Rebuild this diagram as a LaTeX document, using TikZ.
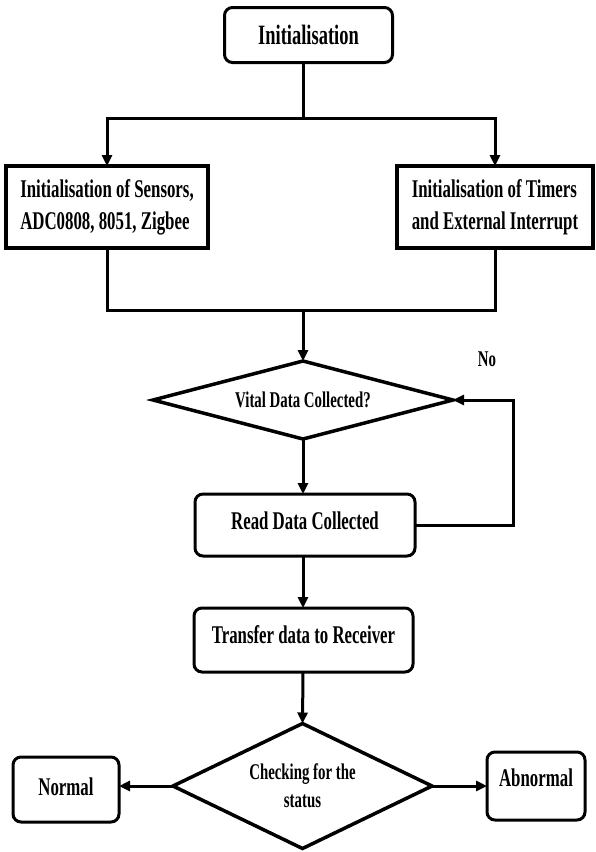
\documentclass[tikz,border=0pt]{standalone}
\usepackage{fontspec}
\setmainfont{Liberation Serif}
\newfontfamily\condfont[FakeStretch=0.66]{Liberation Serif}
\usetikzlibrary{shapes.geometric,arrows.meta}
\begin{document}
\begin{tikzpicture}[x=1pt,y=-1pt,
  rbox/.style={draw, line width=3pt, rounded corners=8pt, fill=white, inner sep=0pt, outer sep=0pt},
  sbox/.style={draw, line width=4pt, fill=white, inner sep=0pt, outer sep=0pt},
  dec/.style={draw, diamond, line width=3.5pt, fill=white, inner sep=0pt, outer sep=0pt},
  conn/.style={line width=3pt},
  arr/.style={conn, -{Triangle[length=11pt,width=10pt]}},
  fbig/.style={font=\condfont\bfseries\fontsize{28}{32}\selectfont},
  fmid/.style={font=\condfont\bfseries\fontsize{25.5}{32}\selectfont},
  fsmall/.style={font=\condfont\bfseries\fontsize{22.5}{28}\selectfont},
]
\fill[white] (0,0) rectangle (596,852);
\useasboundingbox (0,0) rectangle (596,852);

\coordinate (split) at (303,118);
\coordinate (join) at (303,310);
\coordinate (col) at (303,0);
\coordinate (loopx) at (513,0);

\node[rbox, fbig, minimum width=168pt, minimum height=55pt] (init) at (308.5,35) {Initialisation};
\node[sbox, fmid, minimum width=202pt, minimum height=82pt, align=left] (sens) at (107,207) {Initialisation of Sensors,\\ADC0808, 8051, Zigbee};
\node[sbox, fmid, minimum width=196pt, minimum height=82pt, align=left] (tim) at (495,207) {Initialisation of Timers\\and External Interrupt};

\node[dec, fsmall, minimum width=300pt, minimum height=78pt, aspect=3.85] (d1) at (303,400) {Vital Data Collected?};
\node[fsmall, inner sep=0pt] (no) at (487,359) {No};

\node[rbox, fmid, minimum width=220pt, minimum height=62pt, text height=17pt, text depth=8.5pt] (read) at (305,525) {Read Data Collected};
\node[rbox, fmid, minimum width=219pt, minimum height=64pt, text height=17pt, text depth=11pt] (xfer) at (303.5,640) {Transfer data to Receiver};

\node[dec, fsmall, align=center, minimum width=259pt, minimum height=125pt, aspect=2.07] (d2) at (302.5,786) {Checking for the\\status};
\node[rbox, fmid, minimum width=106pt, minimum height=65pt, text height=17pt, text depth=5pt] (normal) at (66,789.5) {Normal};
\node[rbox, fmid, minimum width=98pt, minimum height=68pt, text height=17pt, text depth=17pt] (abn) at (536,786) {Abnormal};

\draw[conn] (init.south -| split) -- (split);
\draw[arr] (split) -| (sens.north);
\draw[arr] (split) -| (tim.north);
\draw[conn] (sens.south) |- (join);
\draw[conn] (tim.south) |- (join);
\draw[arr] (join) -- (d1.north);
\draw[arr] (d1.south) -- (d1.south |- read.north);
\draw[arr] (read.east) -- (read.east -| loopx) |- (d1.east);
\draw[arr] (read.south -| col) -- (xfer.north -| col);
\draw[arr] (xfer.south -| col) -- (d2.north);
\draw[arr] (d2.west) -- (d2.west -| normal.east);
\draw[arr] (d2.east) -- (d2.east -| abn.west);
\end{tikzpicture}
\end{document}
